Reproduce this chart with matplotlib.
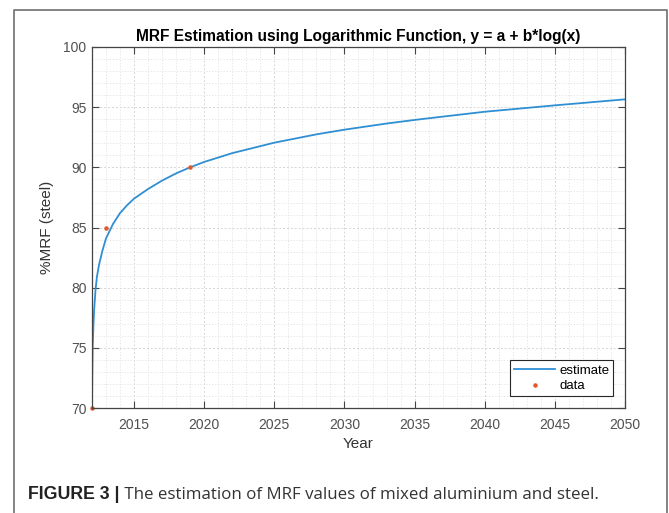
import matplotlib.pyplot as plt
from matplotlib.ticker import MultipleLocator
from matplotlib.lines import Line2D

# fitted curve, values
est_years = [2012.0, 2012.02, 2012.05, 2012.1, 2012.15, 2012.25, 2012.35, 2012.5,
             2012.75, 2013.0, 2013.5, 2014.0, 2014.5, 2015.0, 2016.0, 2017.0,
             2018.0, 2019.0, 2020.0, 2022.0, 2025.0, 2028.0, 2030.0, 2033.0,
             2035.0, 2040.0, 2045.0, 2050.0]
est_values = [70.0, 72.6, 75.1, 76.8, 78.1, 79.8, 80.9, 81.9,
              83.1, 84.1, 85.3, 86.2, 86.85, 87.4, 88.2, 88.9,
              89.5, 90.0, 90.45, 91.18, 92.05, 92.74, 93.13, 93.64,
              93.94, 94.62, 95.15, 95.65]

# observed points
data_years = [2012, 2013, 2019]
data_values = [70, 85, 90]

x_ticks = [2015, 2020, 2025, 2030, 2035, 2040, 2045, 2050]
y_ticks = [70, 75, 80, 85, 90, 95, 100]

plt.rcParams['font.family'] = ['Liberation Sans', 'DejaVu Sans']

fig = plt.figure(figsize=(6.69, 5.13), dpi=100)
ax = fig.add_axes([92 / 669, 105 / 513, 533 / 669, 361 / 513])

ax.plot(est_years, est_values, color='#2f8fd3', lw=1.3, label='estimate')
ax.plot(data_years, data_values, '.', color='#e0592a', ms=4.5, label='data', clip_on=False)

ax.set_xlim(2012, 2050)
ax.set_ylim(70, 100)
ax.set_xticks(x_ticks)
ax.set_yticks(y_ticks)
ax.xaxis.set_minor_locator(MultipleLocator(1))
ax.yaxis.set_minor_locator(MultipleLocator(1))

ax.grid(which='major', color='#d6d6d6', linestyle=(0, (2, 2)), lw=0.7)
ax.grid(which='minor', color='#e2e2e2', linestyle=(0, (1.5, 2)), lw=0.6)
ax.set_axisbelow(True)

ax.tick_params(which='major', direction='in', length=5, width=0.8, color='#444444',
               top=True, right=True, labelsize=10, labelcolor='#505050')
ax.tick_params(axis='x', pad=7.5)
ax.tick_params(axis='y', pad=4)
ax.tick_params(which='minor', length=0)
for s in ax.spines.values():
    s.set_color('#444444')
    s.set_linewidth(0.9)

ax.set_title('MRF Estimation using Logarithmic Function, y = a + b*log(x)',
             fontsize=11.2, fontweight='bold', pad=4)
ax.set_xlabel('Year', fontsize=11, color='#333333', va='center')
ax.set_ylabel('%MRF (steel)', fontsize=11, color='#333333', va='center')
ax.xaxis.set_label_coords(0.5, -0.0997)
ax.yaxis.set_label_coords(-0.0844, 0.5)

leg = ax.legend(loc='lower right', fontsize=9.5, fancybox=False, framealpha=1,
                edgecolor='#262626', handlelength=3.1, borderaxespad=0.9,
                labelspacing=0.25, handletextpad=0.3, borderpad=0.3)
leg.get_frame().set_linewidth(0.8)

# outer frame of the figure panel
fx0, fx1, fy1 = 14 / 669, 667 / 669, 503 / 513
fig.add_artist(Line2D([fx0, fx0, fx1, fx1], [0, fy1, fy1, 0], color='#6e6e6e', lw=1.2))

# caption
cap = fig.text(28 / 669, 14 / 513, 'FIGURE 3 |', fontsize=12.8, fontweight='bold',
               color='#222222', va='baseline')
ax.annotate(' The estimation of MRF values of mixed aluminium and steel.',
            xy=(1, 0), xycoords=cap, va='bottom', fontsize=12.2, color='#333333',
            family=['Open Sans', 'DejaVu Sans'])

plt.savefig('out.png', dpi=100)
